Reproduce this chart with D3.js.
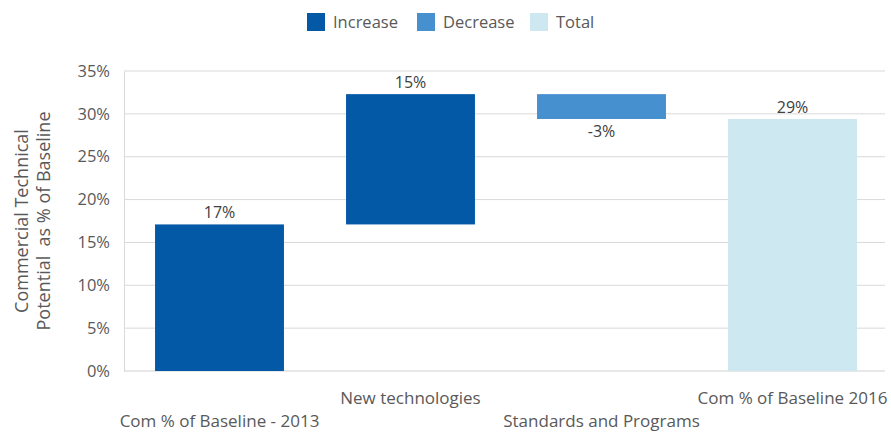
<!DOCTYPE html>
<html>
<head>
<meta charset="utf-8">
<script src="https://cdn.jsdelivr.net/npm/d3@7"></script>
<style>
  html, body { margin: 0; padding: 0; background: #fff; }
  svg { display: block; font-family: "Open Sans", "Noto Sans", sans-serif; }
</style>
</head>
<body>
<svg id="chart" width="891" height="432"></svg>
<script>
// Waterfall: commercial technical potential as % of baseline
const categories = ["Com % of Baseline - 2013", "New technologies", "Standards and Programs", "Com % of Baseline 2016"];
const stepValues = [17.1, 15.2, -2.9, 29.4];
const stepKinds = ["Increase", "Increase", "Decrease", "Total"];
const yTicks = [0, 5, 10, 15, 20, 25, 30, 35];
const legendItems = ["Increase", "Decrease", "Total"];
const legendColors = ["#0459a7", "#4690d0", "#cde8f0"];

const color = d3.scaleOrdinal().domain(legendItems).range(legendColors);

const svg = d3.select("#chart");
const plotLeft = 124, plotRight = 888, plotTop = 71, plotBottom = 371;

const x = d3.scaleBand().domain(categories).range([plotLeft, plotRight])
  .paddingInner(0.325).paddingOuter(0.1625);
const y = d3.scaleLinear().domain([0, 35]).range([plotBottom, plotTop]);

// Build running start/end for each step
let run = 0;
const bars = categories.map((c, i) => {
  const v = stepValues[i], kind = stepKinds[i];
  let y0, y1;
  if (kind === "Total" || i === 0) { y0 = 0; y1 = v; run = v; }
  else { y0 = run; y1 = run + v; run = y1; }
  return { c, v, kind, lo: Math.min(y0, y1), hi: Math.max(y0, y1) };
});

// Gridlines
svg.append("g")
  .selectAll("line").data(yTicks.filter(t => t > 0)).join("line")
  .attr("x1", plotLeft).attr("x2", 885)
  .attr("y1", d => y(d)).attr("y2", d => y(d))
  .attr("stroke", "#d9d9d9").attr("stroke-width", 1);

// Y axis
const yAxis = svg.append("g").attr("transform", `translate(${plotLeft},0)`)
  .call(d3.axisLeft(y).tickValues(yTicks).tickFormat(d => d + "%").tickSize(0).tickPadding(14));
yAxis.select(".domain").attr("stroke", "#d9d9d9");
yAxis.selectAll("text").attr("font-size", 16.5).attr("fill", "#595959")
  .attr("font-family", "'Open Sans', sans-serif");

// Baseline
svg.append("line").attr("x1", plotLeft).attr("x2", 885)
  .attr("y1", y(0)).attr("y2", y(0)).attr("stroke", "#d0d0d0");

// Bars
svg.append("g").selectAll("rect").data(bars).join("rect")
  .attr("x", d => x(d.c)).attr("width", x.bandwidth())
  .attr("y", d => y(d.hi)).attr("height", d => y(d.lo) - y(d.hi))
  .attr("fill", d => color(d.kind));

// Value labels
svg.append("g").selectAll("text").data(bars).join("text")
  .attr("x", d => x(d.c) + x.bandwidth() / 2)
  .attr("y", d => d.kind === "Decrease" ? y(d.lo) + 18 : y(d.hi) - 6)
  .attr("text-anchor", "middle")
  .attr("font-size", 16).attr("fill", "#404040")
  .text(d => Math.round(d.v) + "%");

// Category labels, staggered over two rows
svg.append("g").selectAll("text").data(categories).join("text")
  .attr("x", d => x(d) + x.bandwidth() / 2)
  .attr("y", (d, i) => i % 2 === 0 ? 427 : 404)
  .attr("text-anchor", "middle")
  .attr("font-size", 17).attr("fill", "#595959")
  .text(d => d);

// Y axis title
const yt = svg.append("text")
  .attr("transform", `translate(33,${(plotTop + plotBottom) / 2}) rotate(-90)`)
  .attr("text-anchor", "middle").attr("font-size", 18).attr("fill", "#595959");
yt.append("tspan").attr("x", 0).attr("dy", -5).text("Commercial Technical");
yt.append("tspan").attr("x", 0).attr("dy", 22).attr("xml:space", "preserve").text("Potential  as % of Baseline");

// Legend
const legendX = [307, 417, 530];
const lg = svg.append("g").selectAll("g").data(legendItems).join("g")
  .attr("transform", (d, i) => `translate(${legendX[i]},13)`);
lg.append("rect").attr("width", 18).attr("height", 18).attr("fill", d => color(d));
lg.append("text").attr("x", 26).attr("y", 15).attr("font-size", 16.5)
  .attr("fill", "#595959").text(d => d);
</script>
</body>
</html>
